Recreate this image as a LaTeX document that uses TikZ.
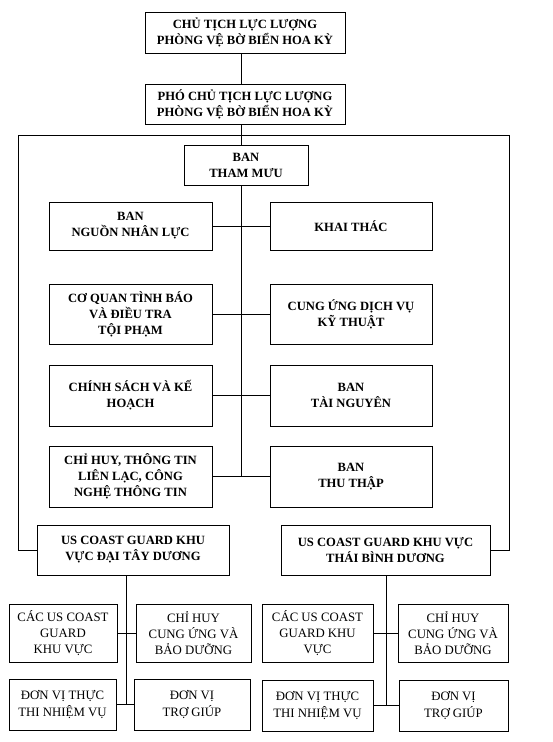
\documentclass[tikz,border=0pt]{standalone}
\usepackage{fontspec}
\setmainfont{Liberation Serif}

\begin{document}
\begin{tikzpicture}[x=1pt,y=-1pt,
  box/.style={rectangle,draw,line width=0.8pt,align=center,inner sep=0pt,
    font=\bfseries\fontsize{12.6}{16}\selectfont},
  unit/.style={rectangle,draw,line width=0.8pt,align=center,inner sep=0pt,
    font=\fontsize{12.8}{16.3}\selectfont},
  link/.style={line width=0.8pt}]

  % Fix the page size
  \useasboundingbox (0,0) rectangle (553,742);

  % Draw the top of the chart
  \node[box,minimum width=200pt,minimum height=41pt] at (245,32.5) (chair) {CHỦ TỊCH LỰC LƯỢNG\\PHÒNG VỆ BỜ BIỂN HOA KỲ};
  \node[box,minimum width=200pt,minimum height=40pt] at (245,104) (vice) {PHÓ CHỦ TỊCH LỰC LƯỢNG\\PHÒNG VỆ BỜ BIỂN HOA KỲ};
  \node[box,minimum width=124pt,minimum height=40pt] at (246,165) (staff) {BAN\\THAM MƯU};

  % Draw the offices, left and right of the spine
  \node[box,minimum width=163pt,minimum height=48pt] at (130.5,226) (hr) {BAN\\NGUỒN NHÂN LỰC};
  \node[box,minimum width=162pt,minimum height=48pt] at (351,226) (ops) {KHAI THÁC};
  \node[box,minimum width=163pt,minimum height=60pt] at (130.5,314) (intel) {CƠ QUAN TÌNH BÁO\\VÀ ĐIỀU TRA\\TỘI PHẠM};
  \node[box,minimum width=162pt,minimum height=60pt] at (351,314) (tech) {CUNG ỨNG DỊCH VỤ\\KỸ THUẬT};
  \node[box,minimum width=163pt,minimum height=61pt] at (130.5,395.5) (policy) {CHÍNH SÁCH VÀ KẾ\\HOẠCH};
  \node[box,minimum width=162pt,minimum height=61pt] at (351,395.5) (res) {BAN\\TÀI NGUYÊN};
  \node[box,minimum width=163pt,minimum height=61pt] at (130.5,476.5) (comm) {CHỈ HUY, THÔNG TIN\\LIÊN LẠC, CÔNG\\NGHỆ THÔNG TIN};
  \node[box,minimum width=162pt,minimum height=61pt] at (351,476.5) (acq) {BAN\\THU THẬP};

  % Draw the two areas
  \node[box,minimum width=192pt,minimum height=50pt] at (133,550) (atlantic) {US COAST GUARD KHU\\VỰC ĐẠI TÂY DƯƠNG};
  \node[box,minimum width=209pt,minimum height=50pt] at (385.5,550) (pacific) {US COAST GUARD KHU VỰC\\THÁI BÌNH DƯƠNG};

  % Draw the units under each area
  \node[unit,minimum width=108pt,minimum height=58pt] at (63,633) (districtL) {CÁC US COAST\\GUARD\\KHU VỰC};
  \node[unit,minimum width=115pt,minimum height=58pt] at (193.5,633) (logL) {CHỈ HUY\\CUNG ỨNG VÀ\\BẢO DƯỠNG};
  \node[unit,minimum width=107pt,minimum height=51pt] at (62.5,704.5) (missionL) {ĐƠN VỊ THỰC\\THI NHIỆM VỤ};
  \node[unit,minimum width=116pt,minimum height=51pt] at (192,704.5) (supportL) {ĐƠN VỊ\\TRỢ GIÚP};
  \node[unit,minimum width=111pt,minimum height=58pt] at (317.5,633) (districtR) {CÁC US COAST\\GUARD KHU\\VỰC};
  \node[unit,minimum width=110pt,minimum height=58pt] at (453,633) (logR) {CHỈ HUY\\CUNG ỨNG VÀ\\BẢO DƯỠNG};
  \node[unit,minimum width=111pt,minimum height=51pt] at (317.5,705.5) (missionR) {ĐƠN VỊ THỰC\\THI NHIỆM VỤ};
  \node[unit,minimum width=109pt,minimum height=51pt] at (453.5,705.5) (supportR) {ĐƠN VỊ\\TRỢ GIÚP};

  % Corners, spine and trunks
  \coordinate (frameL) at (18,135);
  \coordinate (frameR) at (509,135);
  \coordinate (spine) at (241,0);
  \coordinate (trunkL) at (126.5,0);
  \coordinate (trunkR) at (386,0);

  % Draw the connectors
  \draw[link] (chair.south -| spine) -- (vice.north -| spine);
  \draw[link] (vice.south -| spine) -- (staff.north -| spine);
  \draw[link] (staff.south -| spine) -- (spine |- comm.east);
  \draw[link] (hr) -- (ops);
  \draw[link] (intel) -- (tech);
  \draw[link] (policy) -- (res);
  \draw[link] (comm) -- (acq);
  \draw[link] (atlantic.west) -| (frameL) -- (frameR) |- (pacific.east);
  \draw[link] (atlantic.south -| trunkL) -- (trunkL |- missionL.east);
  \draw[link] (districtL) -- (logL);
  \draw[link] (missionL) -- (supportL);
  \draw[link] (pacific.south -| trunkR) -- (trunkR |- missionR.east);
  \draw[link] (districtR) -- (logR);
  \draw[link] (missionR) -- (supportR);

\end{tikzpicture}
\end{document}
